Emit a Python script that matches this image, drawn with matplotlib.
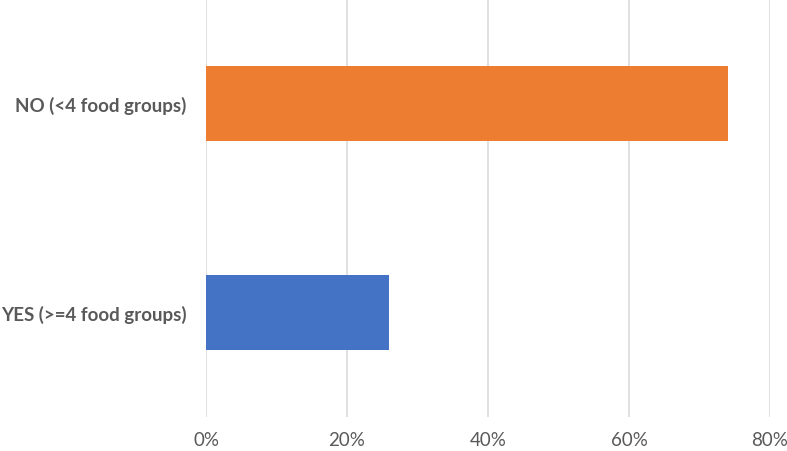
import matplotlib
matplotlib.use("Agg")
import matplotlib.pyplot as plt
from matplotlib.ticker import FuncFormatter

categories = ["YES (>=4 food groups)", "NO (<4 food groups)"]
values = [26.0, 74.0]
colors = ["#4472C4", "#ED7D31"]
xticks = [0, 20, 40, 60, 80]

plt.rcParams['font.family'] = ['Lato', 'DejaVu Sans']

fig = plt.figure(figsize=(7.87, 4.52), dpi=100)
ax = fig.add_axes([206/787, 34/452, (770-206)/787, 418/452])

ax.barh(range(len(categories)), values, height=0.355, color=colors, zorder=3)
ax.set_xlim(0, 80)
ax.set_ylim(-0.5, len(categories) - 0.5)
ax.set_xticks(xticks)
ax.xaxis.set_major_formatter(FuncFormatter(lambda v, p: f"{v:.0f}%"))
ax.set_yticks(range(len(categories)))
ax.set_yticklabels(categories, fontweight='bold', fontsize=13.5, color="#595959")
ax.tick_params(axis='x', labelsize=13.5, colors="#595959", length=0, pad=10)
ax.tick_params(axis='y', length=0, pad=14)
ax.grid(axis='x', color="#DDDDDD", linewidth=1.3, zorder=0)
for s in ax.spines.values():
    s.set_visible(False)

fig.savefig("out.png", dpi=100)
